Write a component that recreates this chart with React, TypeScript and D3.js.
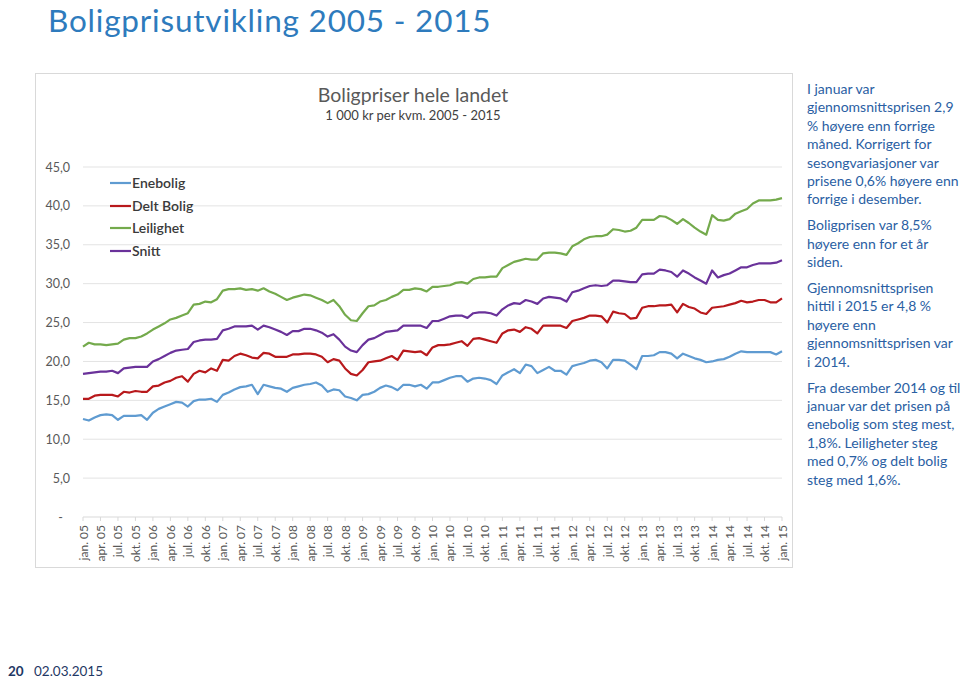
import React from "react";
import * as d3 from "d3";

const seriesNames = ["Enebolig", "Delt Bolig", "Leilighet", "Snitt"];
const seriesColors = ["#5f9bd1", "#b8191c", "#74aa4c", "#6a329a"];

const enebolig = [
  12.6, 12.4, 12.8, 13.1, 13.2, 13.1, 12.5, 13.0, 13.0, 13.0, 13.1, 12.5,
  13.4, 13.9, 14.2, 14.5, 14.8, 14.7, 14.2, 14.9, 15.1, 15.1, 15.2, 14.8,
  15.7, 16.0, 16.4, 16.7, 16.8, 17.0, 15.8, 17.0, 16.8, 16.6, 16.5, 16.1,
  16.6, 16.8, 17.0, 17.1, 17.3, 16.9, 16.1, 16.4, 16.3, 15.5, 15.3, 15.0,
  15.7, 15.8, 16.1, 16.6, 16.9, 16.7, 16.3, 17.0, 17.0, 16.8, 17.0, 16.5,
  17.3, 17.3, 17.6, 17.9, 18.1, 18.1, 17.4, 17.8, 17.9, 17.8, 17.6, 17.1,
  18.2, 18.6, 19.0, 18.5, 19.6, 19.4, 18.5, 18.9, 19.3, 18.8, 18.8, 18.3,
  19.4, 19.6, 19.8, 20.1, 20.2, 19.9, 19.1, 20.2, 20.2, 20.1, 19.6, 19.0,
  20.7, 20.7, 20.8, 21.2, 21.2, 21.0, 20.4, 21.0, 20.7, 20.4, 20.2, 19.9,
  20.0, 20.2, 20.3, 20.6, 21.0, 21.3, 21.2, 21.2, 21.2, 21.2, 21.2, 20.9,
  21.3,
];

const deltBolig = [
  15.2, 15.2, 15.6, 15.7, 15.7, 15.7, 15.5, 16.1, 16.0, 16.2, 16.1, 16.1,
  16.8, 16.9, 17.3, 17.5, 17.9, 18.1, 17.4, 18.4, 18.8, 18.6, 19.1, 18.8,
  20.2, 20.1, 20.7, 21.0, 20.8, 20.5, 20.4, 21.1, 21.0, 20.6, 20.6, 20.6,
  20.9, 20.9, 21.0, 21.0, 20.9, 20.6, 19.9, 20.3, 20.1, 19.1, 18.4, 18.2,
  18.9, 19.9, 20.0, 20.1, 20.4, 20.7, 20.2, 21.4, 21.3, 21.2, 21.3, 20.8,
  21.8, 22.1, 22.1, 22.2, 22.4, 22.6, 22.0, 22.9, 23.0, 22.8, 22.6, 22.4,
  23.6, 24.0, 24.1, 23.8, 24.4, 24.2, 23.6, 24.6, 24.6, 24.6, 24.6, 24.3,
  25.2, 25.4, 25.6, 25.9, 25.9, 25.8, 25.0, 26.4, 26.2, 26.1, 25.5, 25.6,
  26.9, 27.1, 27.1, 27.2, 27.2, 27.3, 26.3, 27.4, 27.0, 26.8, 26.3, 26.1,
  26.9, 27.0, 27.1, 27.3, 27.5, 27.8, 27.6, 27.7, 27.9, 27.9, 27.6, 27.6,
  28.1,
];

const leilighet = [
  21.9, 22.4, 22.2, 22.2, 22.1, 22.2, 22.3, 22.8, 23.0, 23.0, 23.2, 23.6,
  24.1, 24.5, 24.9, 25.4, 25.6, 25.9, 26.2, 27.3, 27.4, 27.7, 27.6, 28.0,
  29.1, 29.3, 29.3, 29.4, 29.2, 29.3, 29.1, 29.4, 29.0, 28.7, 28.3, 27.9,
  28.2, 28.4, 28.6, 28.5, 28.2, 27.9, 27.5, 27.9, 27.1, 26.0, 25.3, 25.2,
  26.2, 27.1, 27.2, 27.7, 27.9, 28.3, 28.6, 29.2, 29.2, 29.4, 29.3, 29.0,
  29.6, 29.6, 29.7, 29.8, 30.1, 30.2, 30.0, 30.6, 30.8, 30.8, 30.9, 30.9,
  32.0, 32.4, 32.8, 33.0, 33.2, 33.1, 33.1, 33.9, 34.0, 34.0, 33.9, 33.7,
  34.8, 35.2, 35.7, 36.0, 36.1, 36.1, 36.3, 37.0, 36.9, 36.7, 36.8, 37.2,
  38.2, 38.2, 38.2, 38.7, 38.6, 38.2, 37.7, 38.3, 37.8, 37.2, 36.7, 36.3,
  38.8, 38.2, 38.1, 38.3, 39.0, 39.3, 39.6, 40.3, 40.7, 40.7, 40.7, 40.8,
  41.0,
];

const snitt = [
  18.4, 18.5, 18.6, 18.7, 18.7, 18.8, 18.5, 19.1, 19.2, 19.3, 19.3, 19.3,
  20.0, 20.3, 20.7, 21.1, 21.4, 21.5, 21.6, 22.5, 22.7, 22.8, 22.8, 22.9,
  24.0, 24.2, 24.5, 24.5, 24.5, 24.6, 24.1, 24.6, 24.4, 24.1, 23.8, 23.4,
  23.9, 23.9, 24.2, 24.2, 24.0, 23.7, 23.2, 23.5, 22.8, 21.9, 21.4, 21.2,
  22.1, 22.8, 23.0, 23.4, 23.8, 23.9, 24.0, 24.6, 24.6, 24.6, 24.6, 24.3,
  25.2, 25.2, 25.5, 25.8, 25.9, 25.9, 25.6, 26.2, 26.3, 26.3, 26.2, 25.9,
  26.7, 27.2, 27.5, 27.4, 27.9, 27.7, 27.4, 28.1, 28.3, 28.2, 28.1, 27.7,
  28.9, 29.1, 29.4, 29.7, 29.8, 29.7, 29.8, 30.4, 30.4, 30.3, 30.2, 30.2,
  31.2, 31.3, 31.3, 31.8, 31.7, 31.5, 30.9, 31.7, 31.3, 30.8, 30.4, 30.0,
  31.7, 30.8, 31.1, 31.3, 31.7, 32.1, 32.1, 32.4, 32.6, 32.6, 32.6, 32.7,
  33.0,
];

const xTickLabels = [
  "jan. 05", "apr. 05", "jul. 05", "okt. 05",
  "jan. 06", "apr. 06", "jul. 06", "okt. 06",
  "jan. 07", "apr. 07", "jul. 07", "okt. 07",
  "jan. 08", "apr. 08", "jul. 08", "okt. 08",
  "jan. 09", "apr. 09", "jul. 09", "okt. 09",
  "jan. 10", "apr. 10", "jul. 10", "okt. 10",
  "jan. 11", "apr. 11", "jul. 11", "okt. 11",
  "jan. 12", "apr. 12", "jul. 12", "okt. 12",
  "jan. 13", "apr. 13", "jul. 13", "okt. 13",
  "jan. 14", "apr. 14", "jul. 14", "okt. 14",
  "jan. 15",
];

const yTickValues = [0, 5, 10, 15, 20, 25, 30, 35, 40, 45];
const yTickLabels = ["-", "5,0", "10,0", "15,0", "20,0", "25,0", "30,0", "35,0", "40,0", "45,0"];

const pageTitle = "Boligprisutvikling 2005 - 2015";
const chartTitle = "Boligpriser hele landet";
const chartSubtitle = "1 000 kr per kvm. 2005 - 2015";

const paragraphs = [
  [
    "I januar var",
    "gjennomsnittsprisen 2,9",
    "% høyere enn forrige",
    "måned. Korrigert for",
    "sesongvariasjoner var",
    "prisene 0,6% høyere enn",
    "forrige i desember.",
  ],
  ["Boligprisen var 8,5%", "høyere enn for et år", "siden."],
  [
    "Gjennomsnittsprisen",
    "hittil i 2015 er 4,8 %",
    "høyere enn",
    "gjennomsnittsprisen var",
    "i 2014.",
  ],
  [
    "Fra desember 2014 og til",
    "januar var det prisen på",
    "enebolig som steg mest,",
    "1,8%. Leiligheter steg",
    "med 0,7% og delt bolig",
    "steg med 1,6%.",
  ],
];

const footerPage = "20";
const footerDate = "02.03.2015";

const FONT = "Lato, 'Open Sans', sans-serif";

export default function App() {
  const W = 960;
  const H = 679;
  const plotLeft = 83;
  const plotRight = 782;
  const x = d3.scaleLinear().domain([0, 120]).range([plotLeft, plotRight]);
  const y = d3.scaleLinear().domain([0, 45]).range([517, 167]);

  const allSeries = [enebolig, deltBolig, leilighet, snitt];
  const line = d3
    .line<number>()
    .x((_, i) => x(i))
    .y((d) => y(d));

  const legendY = [183, 206, 228, 251];

  const textLines: { t: string; y: number }[] = [];
  let ty = 94;
  paragraphs.forEach((p) => {
    p.forEach((t) => {
      textLines.push({ t, y: ty });
      ty += 18.4;
    });
    ty += 7.5;
  });

  return (
    <svg
      width={W}
      height={H}
      style={{ position: "absolute", left: 0, top: 0, background: "#fff" }}
      fontFamily={FONT}
    >
      <rect x={0} y={0} width={W} height={H} fill="#fff" />
      <text x={48} y={32} fontSize={31.5} fontWeight={400} letterSpacing={0.8} fill="#2e7bbd">
        {pageTitle}
      </text>

      <rect x={35.5} y={73.5} width={757} height={494} fill="#fff" stroke="#d9d9d9" />

      <text x={413} y={102} fontSize={19.5} fill="#595959" textAnchor="middle">
        {chartTitle}
      </text>
      <text x={413} y={120} fontSize={13} fill="#404040" textAnchor="middle">
        {chartSubtitle}
      </text>

      {yTickValues.map((v, i) => (
        <g key={"g" + v}>
          {v > 0 && (
            <line
              x1={plotLeft}
              x2={plotRight}
              y1={y(v)}
              y2={y(v)}
              stroke="#e3e3e3"
              strokeWidth={1}
            />
          )}
          <text
            x={v === 0 ? 63 : 70}
            y={y(v) + 4.5}
            fontSize={12.5}
            fill="#595959"
            textAnchor="end"
          >
            {yTickLabels[i]}
          </text>
        </g>
      ))}

      <line x1={plotLeft} x2={plotRight} y1={y(0)} y2={y(0)} stroke="#d9d9d9" />
      {xTickLabels.map((lab, i) => {
        const px = x(i * 3);
        return (
          <g key={lab}>
            <line x1={px} x2={px} y1={y(0)} y2={y(0) + 4} stroke="#d9d9d9" />
            <text
              transform={`translate(${px + 4.5},${y(0) + 8}) rotate(-90)`}
              fontSize={12}
              fill="#595959"
              textAnchor="end"
            >
              {lab}
            </text>
          </g>
        );
      })}

      {allSeries.map((s, si) => (
        <path
          key={seriesNames[si]}
          d={line(s) || ""}
          fill="none"
          stroke={seriesColors[si]}
          strokeWidth={2.2}
          strokeLinejoin="round"
        />
      ))}

      {seriesNames.map((n, i) => (
        <g key={"l" + n}>
          <line
            x1={110}
            x2={131}
            y1={legendY[i]}
            y2={legendY[i]}
            stroke={seriesColors[i]}
            strokeWidth={2.2}
          />
          <text
            x={132}
            y={legendY[i] + 5}
            fontSize={14}
            fontWeight={600}
            fill="#3a3a3a"
          >
            {n}
          </text>
        </g>
      ))}

      {textLines.map((l, i) => (
        <text key={"t" + i} x={807} y={l.y} fontSize={14} fill="#2a60a3">
          {l.t}
        </text>
      ))}

      <text x={8} y={676} fontSize={13.5} fontWeight={700} fill="#1f3864">
        {footerPage}
      </text>
      <text x={34} y={676} fontSize={13.5} fill="#1f3864">
        {footerDate}
      </text>
    </svg>
  );
}
